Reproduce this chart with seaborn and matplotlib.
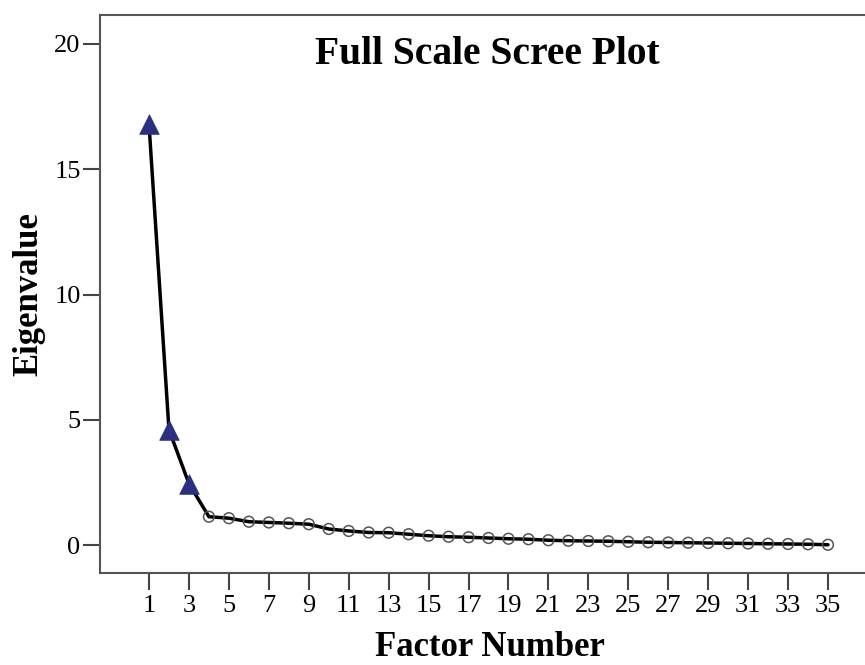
import matplotlib
matplotlib.use("Agg")
import matplotlib.pyplot as plt
import seaborn as sns
import pandas as pd

factors = list(range(1, 36))
eigenvalues = [16.8, 4.6, 2.45, 1.13, 1.07, 0.93, 0.90, 0.87, 0.83, 0.64,
               0.56, 0.50, 0.49, 0.43, 0.37, 0.33, 0.31, 0.28, 0.25, 0.23,
               0.19, 0.17, 0.16, 0.15, 0.13, 0.11, 0.10, 0.09, 0.08, 0.07,
               0.06, 0.05, 0.04, 0.03, 0.01]
retained = ["yes"] * 3 + ["no"] * 32
xticks = list(range(1, 36, 2))
yticks = [0, 5, 10, 15, 20]

df = pd.DataFrame({"factor": factors, "eig": eigenvalues, "kept": retained})

sns.set_style("white")
plt.rcParams['font.family'] = ['Liberation Serif', 'DejaVu Serif']
plt.rcParams['text.color'] = 'black'
plt.rcParams['axes.labelcolor'] = 'black'
plt.rcParams['xtick.color'] = 'black'
plt.rcParams['ytick.color'] = 'black'

W, H = 865, 665
fig = plt.figure(figsize=(W / 100, H / 100), dpi=100)
left_px, right_px, top_px, bottom_px = 100, 880, 15, 573
ax = fig.add_axes([left_px / W, (H - bottom_px) / H,
                   (right_px - left_px) / W, (bottom_px - top_px) / H])

sns.lineplot(data=df, x="factor", y="eig", ax=ax, color="black", lw=2.5,
             zorder=2)
sns.scatterplot(data=df[df.kept == "no"], x="factor", y="eig", ax=ax,
                marker="o", s=60, facecolor="none", edgecolor="#555555",
                linewidth=1.1, zorder=3)
sns.scatterplot(data=df[df.kept == "yes"], x="factor", y="eig", ax=ax,
                marker="^", s=200, color="#2B2F80", edgecolor="#2B2F80",
                linewidth=0.5, zorder=4)

px_per_x = 19.97
xmin = 1 - (149 - left_px) / px_per_x
xmax = 1 + (right_px - 149) / px_per_x
px_per_y = 25.05
ymin = -(bottom_px - 545) / px_per_y
ymax = (545 - top_px) / px_per_y
ax.set_xlim(xmin, xmax)
ax.set_ylim(ymin, ymax)
ax.set_xticks(xticks)
ax.set_yticks(yticks)
ax.tick_params(axis="both", direction="out", length=12, width=1.5,
               color="#444444", labelsize=19, left=True, bottom=True)
ax.tick_params(axis="y", pad=2)
ax.tick_params(axis="x", pad=4)

for side in ["left", "bottom", "top", "right"]:
    ax.spines[side].set_color("#555555")
    ax.spines[side].set_linewidth(1.5)

ax.set_xlabel("Factor Number", fontsize=25, fontweight="bold", labelpad=10)
ax.set_ylabel("Eigenvalue", fontsize=25, fontweight="bold", labelpad=6)
ax.text(17.93, 19.6, "Full Scale Scree Plot", fontsize=28.5, fontweight="bold",
        ha="center", va="center")

fig.savefig("out.png", dpi=100)
